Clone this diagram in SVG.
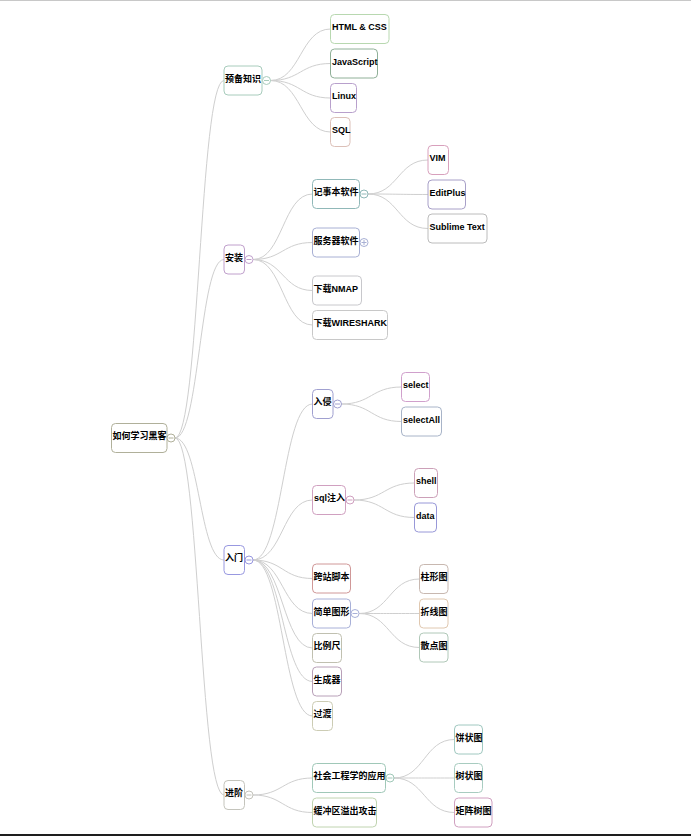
<svg xmlns="http://www.w3.org/2000/svg" width="691" height="836" viewBox="0 0 691 836">
<style>
.n rect{fill:#fff;stroke-width:1}
.n text{font-family:"Liberation Sans","Noto Sans CJK SC",sans-serif;font-size:9px;font-weight:bold;fill:#000}
.c circle{fill:#fff;stroke-width:1}
.c line{stroke-width:1}
#connectors path{fill:none;stroke:#cfcfcf;stroke-width:1}
</style>
<rect x="0" y="0" width="691" height="836" fill="#fff"/>
<rect x="0" y="0" width="691" height="1" fill="#c8c8c8"/>
<rect x="0" y="834" width="691" height="2" fill="#1e1e1e"/>
<g id="connectors">
<path d="M175 438C199.5 438 199.5 80.5 224 80.5"/>
<path d="M175 438C199.5 438 199.5 259.5 224 259.5"/>
<path d="M175 438C199.5 438 199.5 560 224 560"/>
<path d="M175 438C199.5 438 199.5 795 224 795"/>
<path d="M270.5 80.5C300.5 80.5 300.5 29 330.5 29"/>
<path d="M270.5 80.5C300.5 80.5 300.5 63.5 330.5 63.5"/>
<path d="M270.5 80.5C300.5 80.5 300.5 98 330.5 98"/>
<path d="M270.5 80.5C300.5 80.5 300.5 132 330.5 132"/>
<path d="M253 259.5C282.75 259.5 282.75 194 312.5 194"/>
<path d="M253 259.5C282.75 259.5 282.75 242.5 312.5 242.5"/>
<path d="M253 259.5C282.75 259.5 282.75 290.5 312.5 290.5"/>
<path d="M253 259.5C282.75 259.5 282.75 325 312.5 325"/>
<path d="M368 194C398 194 398 160 428 160"/>
<path d="M368 194C398 194 398 194.5 428 194.5"/>
<path d="M368 194C398 194 398 228.5 428 228.5"/>
<path d="M253 560C282.75 560 282.75 404 312.5 404"/>
<path d="M253 560C282.75 560 282.75 500 312.5 500"/>
<path d="M253 560C282.75 560 282.75 578.5 312.5 578.5"/>
<path d="M253 560C282.75 560 282.75 613.5 312.5 613.5"/>
<path d="M253 560C282.75 560 282.75 648 312.5 648"/>
<path d="M253 560C282.75 560 282.75 681.5 312.5 681.5"/>
<path d="M253 560C282.75 560 282.75 716 312.5 716"/>
<path d="M341.5 404C371.5 404 371.5 387 401.5 387"/>
<path d="M341.5 404C371.5 404 371.5 421.5 401.5 421.5"/>
<path d="M354 500C384.25 500 384.25 483 414.5 483"/>
<path d="M354 500C384.25 500 384.25 517.5 414.5 517.5"/>
<path d="M359 613.5C389.25 613.5 389.25 579 419.5 579"/>
<path d="M359 613.5C389.25 613.5 389.25 613.5 419.5 613.5"/>
<path d="M359 613.5C389.25 613.5 389.25 647.5 419.5 647.5"/>
<path d="M253 795C282.75 795 282.75 778 312.5 778"/>
<path d="M253 795C282.75 795 282.75 812.5 312.5 812.5"/>
<path d="M394 778C424.25 778 424.25 739.5 454.5 739.5"/>
<path d="M394 778C424.25 778 424.25 778 454.5 778"/>
<path d="M394 778C424.25 778 424.25 812.5 454.5 812.5"/>
</g>
<g id="root" class="n"><rect x="111.5" y="423.5" width="55.5" height="29" rx="4" stroke="#b0b09a"/><text x="112.5" y="439">如何学习黑客</text>
<g class="c"><circle cx="171" cy="438" r="4" stroke="#b0b09a"/><line x1="168.5" y1="438" x2="173.5" y2="438" stroke="#b0b09a"/></g></g>
<g id="n-yubei" class="n"><rect x="224" y="66" width="38" height="29" rx="4" stroke="#a8ccbc"/><text x="225" y="81.5">预备知识</text>
<g class="c"><circle cx="266.5" cy="80.5" r="4" stroke="#a8ccbc"/><line x1="264" y1="80.5" x2="269" y2="80.5" stroke="#a8ccbc"/></g></g>
<g id="n-html" class="n"><rect x="330.5" y="14.5" width="58.5" height="29" rx="4" stroke="#b8d8b0"/><text x="332" y="30">HTML &amp; CSS</text></g>
<g id="n-js" class="n"><rect x="330.5" y="49" width="47" height="29" rx="4" stroke="#90b098"/><text x="332" y="64.5">JavaScript</text></g>
<g id="n-linux" class="n"><rect x="330.5" y="83.5" width="26" height="29" rx="4" stroke="#b8a0cc"/><text x="332" y="99">Linux</text></g>
<g id="n-sql" class="n"><rect x="330.5" y="117.5" width="19.5" height="29" rx="4" stroke="#dcc0b8"/><text x="332" y="133">SQL</text></g>
<g id="n-anzhuang" class="n"><rect x="224" y="245" width="20.5" height="29" rx="4" stroke="#c0a0cc"/><text x="225" y="260.5">安装</text>
<g class="c"><circle cx="249" cy="259.5" r="4" stroke="#c0a0cc"/><line x1="246.5" y1="259.5" x2="251.5" y2="259.5" stroke="#c0a0cc"/></g></g>
<g id="n-jishiben" class="n"><rect x="312.5" y="179.5" width="47" height="29" rx="4" stroke="#90b8b8"/><text x="313.5" y="195">记事本软件</text>
<g class="c"><circle cx="364" cy="194" r="4" stroke="#90b8b8"/><line x1="361.5" y1="194" x2="366.5" y2="194" stroke="#90b8b8"/></g></g>
<g id="n-fuwuqi" class="n"><rect x="312.5" y="228" width="47" height="29" rx="4" stroke="#a8b0d4"/><text x="313.5" y="243.5">服务器软件</text>
<g class="c"><circle cx="364" cy="242.5" r="4" stroke="#a8b0d4"/><line x1="361.5" y1="242.5" x2="366.5" y2="242.5" stroke="#a8b0d4"/><line x1="364" y1="240" x2="364" y2="245" stroke="#a8b0d4"/></g></g>
<g id="n-nmap" class="n"><rect x="312.5" y="276" width="49" height="29" rx="4" stroke="#c8c8cc"/><text x="313.5" y="291.5">下载NMAP</text></g>
<g id="n-wireshark" class="n"><rect x="312.5" y="310.5" width="75" height="29" rx="4" stroke="#c8c8c8"/><text x="313.5" y="326">下载WIRESHARK</text></g>
<g id="n-vim" class="n"><rect x="428" y="145.5" width="20.5" height="29" rx="4" stroke="#d8a0bc"/><text x="429.5" y="161">VIM</text></g>
<g id="n-editplus" class="n"><rect x="428" y="180" width="37.5" height="29" rx="4" stroke="#a8a0c8"/><text x="429.5" y="195.5">EditPlus</text></g>
<g id="n-sublime" class="n"><rect x="428" y="214" width="59" height="29" rx="4" stroke="#bcbcbc"/><text x="429.5" y="229.5">Sublime Text</text></g>
<g id="n-rumen" class="n"><rect x="224" y="545.5" width="20.5" height="29" rx="4" stroke="#9898e0"/><text x="225" y="561">入门</text>
<g class="c"><circle cx="249" cy="560" r="4" stroke="#9898e0"/><line x1="246.5" y1="560" x2="251.5" y2="560" stroke="#9898e0"/></g></g>
<g id="n-ruqin" class="n"><rect x="312.5" y="389.5" width="20.5" height="29" rx="4" stroke="#a0a0d0"/><text x="313.5" y="405">入侵</text>
<g class="c"><circle cx="337.5" cy="404" r="4" stroke="#a0a0d0"/><line x1="335" y1="404" x2="340" y2="404" stroke="#a0a0d0"/></g></g>
<g id="n-select" class="n"><rect x="401.5" y="372.5" width="28" height="29" rx="4" stroke="#d0a0cc"/><text x="403" y="388">select</text></g>
<g id="n-selectall" class="n"><rect x="401.5" y="407" width="40" height="29" rx="4" stroke="#a8b4c8"/><text x="403" y="422.5">selectAll</text></g>
<g id="n-sqlzhuru" class="n"><rect x="312.5" y="485.5" width="33" height="29" rx="4" stroke="#d0a0c0"/><text x="314" y="501">sql注入</text>
<g class="c"><circle cx="350" cy="500" r="4" stroke="#d0a0c0"/><line x1="347.5" y1="500" x2="352.5" y2="500" stroke="#d0a0c0"/></g></g>
<g id="n-shell" class="n"><rect x="414.5" y="468.5" width="23" height="29" rx="4" stroke="#cca0b8"/><text x="416" y="484">shell</text></g>
<g id="n-data" class="n"><rect x="414.5" y="503" width="22" height="29" rx="4" stroke="#9898d8"/><text x="416" y="518.5">data</text></g>
<g id="n-kuazhan" class="n"><rect x="312.5" y="564" width="38" height="29" rx="4" stroke="#d09898"/><text x="313.5" y="579.5">跨站脚本</text></g>
<g id="n-jiandan" class="n"><rect x="312.5" y="599" width="38" height="29" rx="4" stroke="#a8b0d8"/><text x="313.5" y="614.5">简单图形</text>
<g class="c"><circle cx="355" cy="613.5" r="4" stroke="#a8b0d8"/><line x1="352.5" y1="613.5" x2="357.5" y2="613.5" stroke="#a8b0d8"/></g></g>
<g id="n-bilichi" class="n"><rect x="312.5" y="633.5" width="29" height="29" rx="4" stroke="#c0c0b0"/><text x="313.5" y="649">比例尺</text></g>
<g id="n-shengcheng" class="n"><rect x="312.5" y="667" width="29" height="29" rx="4" stroke="#b8a0b8"/><text x="313.5" y="682.5">生成器</text></g>
<g id="n-guodu" class="n"><rect x="312.5" y="701.5" width="20" height="29" rx="4" stroke="#ccccb4"/><text x="313.5" y="717">过渡</text></g>
<g id="n-zhuxing" class="n"><rect x="419.5" y="564.5" width="28.5" height="29" rx="4" stroke="#c8b8b0"/><text x="420.5" y="580">柱形图</text></g>
<g id="n-zhexian" class="n"><rect x="419.5" y="599" width="28.5" height="29" rx="4" stroke="#e0c8b0"/><text x="420.5" y="614.5">折线图</text></g>
<g id="n-sandian" class="n"><rect x="419.5" y="633" width="28.5" height="29" rx="4" stroke="#b0c8b8"/><text x="420.5" y="648.5">散点图</text></g>
<g id="n-jinjie" class="n"><rect x="224" y="780.5" width="20.5" height="29" rx="4" stroke="#c4c4bc"/><text x="225" y="796">进阶</text>
<g class="c"><circle cx="249" cy="795" r="4" stroke="#c4c4bc"/><line x1="246.5" y1="795" x2="251.5" y2="795" stroke="#c4c4bc"/></g></g>
<g id="n-shehui" class="n"><rect x="312.5" y="763.5" width="73" height="29" rx="4" stroke="#a0c8b8"/><text x="313.5" y="779">社会工程学的应用</text>
<g class="c"><circle cx="390" cy="778" r="4" stroke="#a0c8b8"/><line x1="387.5" y1="778" x2="392.5" y2="778" stroke="#a0c8b8"/></g></g>
<g id="n-huanchong" class="n"><rect x="312.5" y="798" width="64" height="29" rx="4" stroke="#c0d4b0"/><text x="313.5" y="813.5">缓冲区溢出攻击</text></g>
<g id="n-bingzhuang" class="n"><rect x="454.5" y="725" width="28" height="29" rx="4" stroke="#a0c8c0"/><text x="455.5" y="740.5">饼状图</text></g>
<g id="n-shuzhuang" class="n"><rect x="454.5" y="763.5" width="28" height="29" rx="4" stroke="#a8ccc0"/><text x="455.5" y="779">树状图</text></g>
<g id="n-juzhen" class="n"><rect x="454.5" y="798" width="37.5" height="29" rx="4" stroke="#d0a0c0"/><text x="455.5" y="813.5">矩阵树图</text></g>
</svg>
